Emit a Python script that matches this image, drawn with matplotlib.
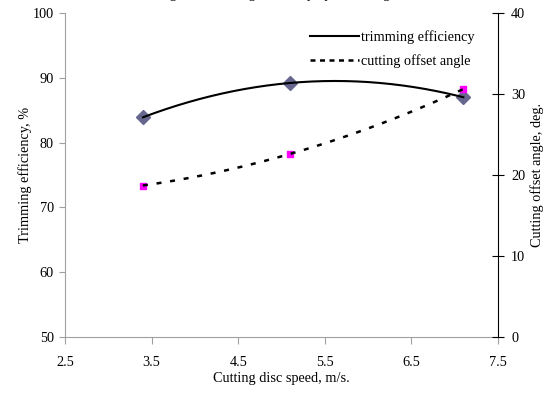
import numpy as np
import matplotlib
matplotlib.use('Agg')
import matplotlib.pyplot as plt
from matplotlib.lines import Line2D

plt.rcParams['font.family'] = ['Liberation Serif', 'DejaVu Serif']
plt.rcParams['font.size'] = 10.3

# values
speed = [3.4, 5.1, 7.1]
trim_eff = [83.9, 89.2, 87.0]
offset_angle = [18.7, 22.6, 30.6]

marker_blue = '#66668f'
pink = '#ff00ff'
grey = '#a0a0a0'

fig = plt.figure(figsize=(5.46, 3.93), dpi=100)
ax = fig.add_axes([0.119, 0.1425, 0.793, 0.8245])
ax2 = ax.twinx()

# 2nd order polynomial trendlines through the points
xs = np.linspace(speed[0], speed[-1], 200)
ax.plot(xs, np.polyval(np.polyfit(speed, trim_eff, 2), xs), color='k', lw=1.5, zorder=3)
ax.plot(speed, trim_eff, ls='none', marker='D', ms=7, color=marker_blue, zorder=2)

ax2.plot(xs, np.polyval(np.polyfit(speed, offset_angle, 2), xs), color='k', lw=1.8,
         linestyle=(0, (2, 3.5)), zorder=3)
ax2.plot(speed, offset_angle, ls='none', marker='s', ms=5, color=pink, zorder=2)

ax.set_xlim(2.5, 7.5)
ax.set_ylim(50, 100)
ax2.set_ylim(0, 40)
ax.set_xticks([2.5, 3.5, 4.5, 5.5, 6.5, 7.5])
ax.set_yticks([50, 60, 70, 80, 90, 100])
ax2.set_yticks([0, 10, 20, 30, 40])

ax.spines['top'].set_visible(False)
ax2.spines['top'].set_visible(False)
ax.spines['left'].set_color(grey)
ax.spines['bottom'].set_color(grey)
ax2.spines['left'].set_visible(False)
ax2.spines['bottom'].set_visible(False)
ax2.spines['right'].set_color('k')
ax.spines['right'].set_visible(False)

ax.tick_params(axis='y', direction='out', length=4, color=grey, pad=4)
ax.tick_params(axis='x', direction='out', length=5, color=grey, pad=8.5)
ax2.tick_params(axis='y', direction='inout', length=9, color='k', pad=5)

ax.set_xlabel('Cutting disc speed, m/s.', va='center')
ax.set_ylabel('Trimming efficiency, %', va='center')
ax2.set_ylabel('Cutting offset angle, deg.', va='center')
ax.xaxis.set_label_coords(0.5, -0.128)
ax.yaxis.set_label_coords(-0.092, 0.5)
ax2.yaxis.set_label_coords(1.09, 0.5)

handles = [Line2D([], [], color='k', lw=1.5),
           Line2D([], [], color='k', lw=1.8, linestyle=(0, (2, 1.8)))]
ax.legend(handles, ['trimming efficiency', 'cutting offset angle'], loc='upper left',
          bbox_to_anchor=(0.55, 0.97), frameon=False, handlelength=3.4,
          handletextpad=0.15, labelspacing=0.75, borderpad=0)

# title cut off at the top of the picture
fig.text(0.49, 1.004, 'Cutting and trimming efficiency by offset angle',
         ha='center', va='baseline', fontsize=10)

fig.savefig('out.png', dpi=100)
